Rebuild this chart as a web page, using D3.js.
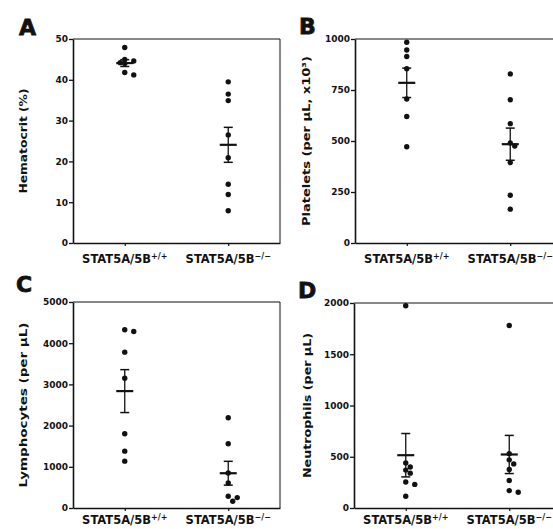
<html lang="en">
  <head>
    <title>stat5 blood counts</title>
    <script src="https://d3js.org/d3.v7.min.js"></script>
    <style>
      body { margin: 0; background: #fff; }
      svg text { fill: #111; font-family: 'DejaVu Sans', sans-serif; font-weight: bold; }
      .tick line, .domain { stroke: #111; }
    </style>
  </head>
  <body>
    <svg id="fig" width="553" height="529"></svg>
    <script>

      const genotypes = ['+/+', '\u2212/\u2212']
      const genotypeBase = 'STAT5A/5B'

      // values, one array per group
      const hematocritWT = [47.9, 45.0, 44.6, 44.2, 44.0, 41.8, 41.2]
      const hematocritKO = [39.5, 36.5, 34.9, 26.5, 20.9, 14.4, 11.9, 7.9]
      const plateletsWT = [984, 946, 914, 854, 706, 620, 472]
      const plateletsKO = [829, 702, 585, 490, 475, 394, 234, 166]
      const lymphocytesWT = [4326, 4284, 3783, 3150, 1801, 1380, 1137]
      const lymphocytesKO = [2191, 1558, 850, 608, 285, 253, 163]
      const neutrophilsWT = [1973, 440, 400, 370, 340, 254, 230, 114]
      const neutrophilsKO = [1780, 530, 470, 430, 375, 268, 170, 154]

      const hematocritTicks = [0, 10, 20, 30, 40, 50]
      const plateletsTicks = [0, 250, 500, 750, 1000]
      const lymphocytesTicks = [0, 1000, 2000, 3000, 4000, 5000]
      const neutrophilsTicks = [0, 500, 1000, 1500, 2000]

      const panels = [
        { letter: 'A', title: 'Hematocrit (%)', groups: [hematocritWT, hematocritKO], ticks: hematocritTicks,
          box: [73, 39, 280, 243], letterPos: [19, 35], titleX: 23, titleLen: 105, labelGap: 20 },
        { letter: 'B', title: 'Platelets (per \u03bcL, x10\u00b3)', groups: [plateletsWT, plateletsKO], ticks: plateletsTicks,
          box: [355, 39, 562, 243], letterPos: [299, 34], titleX: 306, titleLen: 170, labelGap: 20 },
        { letter: 'C', title: 'Lymphocytes (per \u03bcL)', groups: [lymphocytesWT, lymphocytesKO], ticks: lymphocytesTicks,
          box: [73, 302, 280, 508], letterPos: [16, 292], titleX: 23, titleLen: 165, labelGap: 16 },
        { letter: 'D', title: 'Neutrophils (per \u03bcL)', groups: [neutrophilsWT, neutrophilsKO], ticks: neutrophilsTicks,
          box: [354, 303, 561, 508], letterPos: [298, 298], titleX: 307, titleLen: 145, labelGap: 16 }
      ]

      const svg = d3.select('#fig')
      const r = 2.7

      // push overlapping dots sideways a little, like the original
      function dodge(vals, x0, y) {
        const placed = []
        const offsets = [0, 4.5, -4.5, 9, -9, 13]
        return vals.slice().sort((a, b) => b - a).map(v => {
          const cy = y(v)
          let cx = x0
          for (const o of offsets) {
            const hit = placed.some(p => Math.hypot(p[0] - (x0 + o), p[1] - cy) < 2 * r)
            if (!hit) { cx = x0 + o; break }
          }
          placed.push([cx, cy])
          return [cx, cy]
        })
      }

      panels.forEach(p => {
        const [x0, y0, x1, y1] = p.box
        const g = svg.append('g')

        const y = d3.scaleLinear().domain(d3.extent(p.ticks)).range([y1, y0])
        const x = d3.scalePoint().domain([0, 1]).range([x0, x1]).padding(0.5)

        // frame top + right
        g.append('path')
          .attr('d', `M${x0},${y0}H${x1}V${y1}`)
          .attr('fill', 'none').attr('stroke', '#111').attr('stroke-width', 1)

        const ya = g.append('g').attr('transform', `translate(${x0},0)`)
          .call(d3.axisLeft(y).tickValues(p.ticks).tickSize(4).tickSizeOuter(0).tickPadding(1).tickFormat(d3.format('d')))
        ya.select('.domain').attr('stroke-width', 1.6)
        ya.selectAll('.tick line').attr('stroke-width', 1.3)
        ya.selectAll('text').attr('font-size', 9).attr('font-family', "'DejaVu Sans', sans-serif").attr('font-weight', 'bold').attr('fill', '#111')

        const xa = g.append('g').attr('transform', `translate(0,${y1})`)
          .call(d3.axisBottom(x).tickSize(3).tickSizeOuter(0).tickFormat(''))
        xa.select('.domain').attr('stroke-width', 1.6)
        xa.selectAll('.tick line').attr('stroke-width', 1.2)

        // category labels with superscript genotype
        genotypes.forEach((gt, i) => {
          const t = g.append('text')
            .attr('x', x(i)).attr('y', y1 + p.labelGap)
            .attr('text-anchor', 'middle')
            .attr('font-size', 11.5)
          t.append('tspan').text(genotypeBase)
          t.append('tspan').attr('font-size', 8).attr('dy', -4.5).text(gt)
        })

        // y title
        g.append('text')
          .attr('transform', `translate(${p.titleX + 4},${(y0 + y1) / 2}) rotate(-90)`)
          .attr('text-anchor', 'middle')
          .attr('font-size', 11)
          .attr('textLength', p.titleLen)
          .attr('lengthAdjust', 'spacingAndGlyphs')
          .text(p.title)

        // panel letter
        g.append('text')
          .attr('x', p.letterPos[0]).attr('y', p.letterPos[1])
          .attr('font-size', 22)
          .attr('stroke', '#111').attr('stroke-width', 0.8)
          .text(p.letter)

        p.groups.forEach((vals, i) => {
          const cx = x(i)
          const pts = dodge(vals, cx, y)
          g.selectAll(null).data(pts).join('circle')
            .attr('cx', d => d[0]).attr('cy', d => d[1]).attr('r', r)
            .attr('fill', '#111')

          const m = d3.mean(vals)
          const sem = d3.deviation(vals) / Math.sqrt(vals.length)
          const eb = g.append('g').attr('stroke', '#111')
          eb.append('line').attr('x1', cx).attr('x2', cx)
            .attr('y1', y(m + sem)).attr('y2', y(m - sem)).attr('stroke-width', 1.3)
          eb.selectAll(null).data([m + sem, m - sem]).join('line')
            .attr('x1', cx - 4.5).attr('x2', cx + 4.5)
            .attr('y1', d => y(d)).attr('y2', d => y(d)).attr('stroke-width', 1.5)
          eb.append('line').attr('x1', cx - 8.5).attr('x2', cx + 8.5)
            .attr('y1', y(m)).attr('y2', y(m)).attr('stroke-width', 2.2)
        })
      })
    </script>
  </body>
</html>
